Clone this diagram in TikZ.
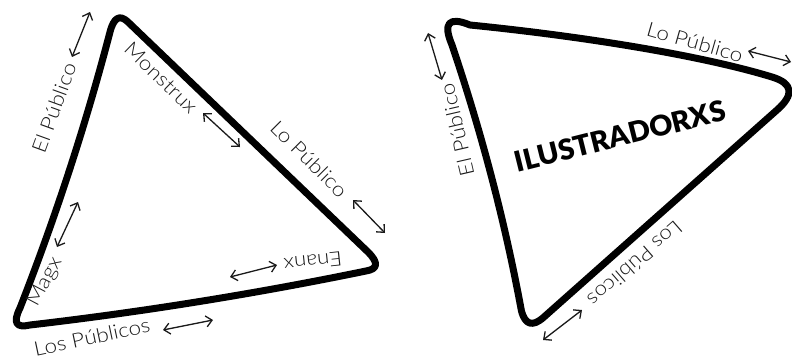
\documentclass[tikz,border=0pt]{standalone}
\usepackage{fontspec}
\usetikzlibrary{arrows.meta}
\newfontfamily\lightfont[FakeStretch=1.12]{Lato Light}
\newfontfamily\heavyfont{Lato Black}
\definecolor{ink}{HTML}{1A1A1A}
\tikzset{
  tri/.style={line width=7pt, line join=round, line cap=round, black},
  lbl/.style={font=\lightfont\fontsize{20}{20}\selectfont, text=ink, inner sep=0pt},
  barb/.tip={Straight Barb[length=6pt,width=11pt,line width=1.3pt]},
  dbl/.style={line width=1.3pt, ink, {barb}-{barb}},
  big/.style={font=\heavyfont\fontsize{28.5}{28.5}\selectfont, inner sep=0pt}
}
\begin{document}
\begin{tikzpicture}[x=1pt,y=-1pt]
\useasboundingbox (0,0) rectangle (792,361);
\fill[white] (0,0) rectangle (792,361);
% left triangle
\draw[tri] (110,32) .. controls (113.8,17.4) and (119.8,14.1) .. (128,22)
  -- (368,252) .. controls (378.7,262.7) and (378,269) .. (366,271)
  .. controls (254,294) and (142,312) .. (30,325)
  .. controls (16,328.3) and (12.7,322.7) .. (20,308)
  .. controls (56,216) and (86,124) .. (110,32) -- cycle;
% right triangle
\draw[tri] (452,45) .. controls (442.7,23) and (448.7,16.3) .. (470,25)
  .. controls (580,36) and (700,55) .. (772,77)
  .. controls (792.9,83.4) and (794.6,94.4) .. (777,110)
  -- (543.5,317.4) .. controls (532.5,327.1) and (525.1,324.9) .. (521.4,310.7)
  .. controls (505,222) and (482,134) .. (452,45) -- cycle;
% left labels
\node[lbl, rotate=70] (elpub) at (54,108) {El Público};
\node[lbl, rotate=-44] (monst) at (161,78) {Monstrux};
\node[lbl, rotate=-45] (lopub) at (309,159) {Lo Público};
\node[lbl, rotate=186] (enanx) at (313,262) {Enanx};
\node[lbl, rotate=62] (magx) at (45,282) {Magx};
\node[lbl, rotate=12] (lospub) at (92,337) {Los Públicos};
% left arrows
\coordinate (a1s) at (72,57); \coordinate (a1e) at (90,12);
\coordinate (a2s) at (203,113); \coordinate (a2e) at (240,147);
\coordinate (a3s) at (353,200); \coordinate (a3e) at (385,233);
\coordinate (a4s) at (230,277); \coordinate (a4e) at (277,265);
\coordinate (a5s) at (57,247); \coordinate (a5e) at (78,202);
\coordinate (a6s) at (163,330); \coordinate (a6e) at (213,320);
\draw[dbl] (a1s) -- (a1e);
\draw[dbl] (a2s) -- (a2e);
\draw[dbl] (a3s) -- (a3e);
\draw[dbl] (a4s) -- (a4e);
\draw[dbl] (a5s) -- (a5e);
\draw[dbl] (a6s) -- (a6e);
% right labels
\node[lbl, rotate=-16] (rlopub) at (695,42) {Lo Público};
\node[lbl, rotate=103] (relpub) at (457,130) {El Público};
\node[lbl, rotate=221] (rlospub) at (635,264) {Los Públicos};
\node[big, rotate=14] (ilus) at (620,136) {ILUSTRADORXS};
% right arrows
\coordinate (b1s) at (748,51); \coordinate (b1e) at (791,62);
\coordinate (b2s) at (428,33); \coordinate (b2e) at (442,80);
\coordinate (b3s) at (543,340); \coordinate (b3e) at (582,310);
\draw[dbl] (b1s) -- (b1e);
\draw[dbl] (b2s) -- (b2e);
\draw[dbl] (b3s) -- (b3e);
\end{tikzpicture}
\end{document}
